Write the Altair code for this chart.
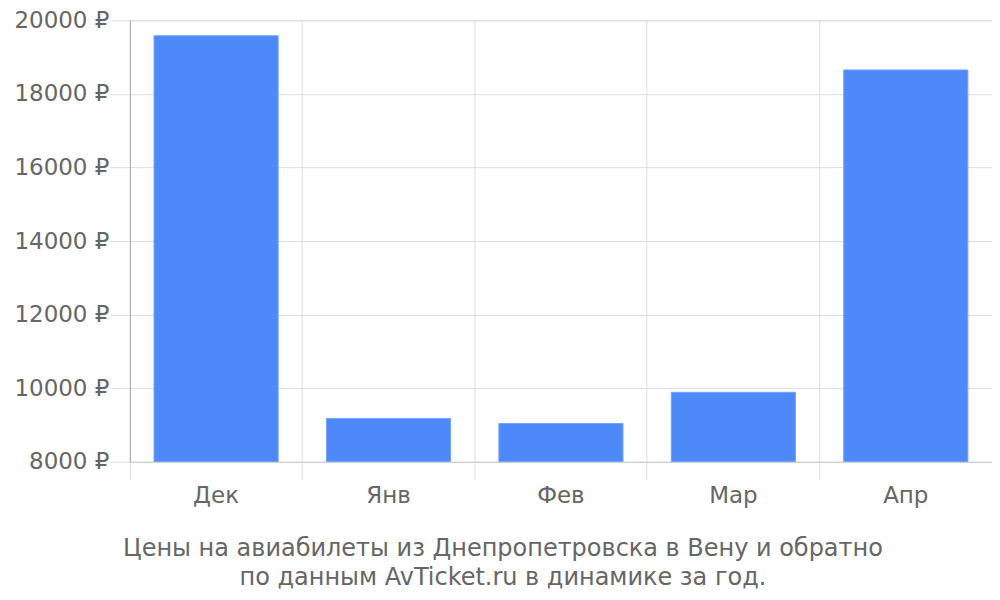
import altair as alt
import pandas as pd

months = ["Дек", "Янв", "Фев", "Мар", "Апр"]
prices = [19580, 9180, 9040, 9890, 18650]
title_lines = ["Цены на авиабилеты из Днепропетровска в Вену и обратно",
               "по данным AvTicket.ru в динамике за год."]

df = pd.DataFrame({"month": months, "price": prices})

FONT = "DejaVu Sans"
GRAY = "#666666"

chart = alt.Chart(df).mark_bar(
    color="#4d89f9", stroke="#74a3fa", strokeWidth=1, clip=True,
    width=alt.RelativeBandSize(0.72)
).encode(
    x=alt.X("month:N", sort=months, title=None,
            scale=alt.Scale(paddingInner=0, paddingOuter=0),
            axis=alt.Axis(bandPosition=0, grid=True, gridColor="#dddddd",
                          tickColor="#dddddd", tickSize=18, domainColor="#cccccc",
                          labelAngle=0, labelPadding=5, labelFontSize=23,
                          labelColor=GRAY, labelFont=FONT)),
    y=alt.Y("price:Q", title=None,
            scale=alt.Scale(domain=[8000, 20000], zero=False, nice=False),
            axis=alt.Axis(values=[8000, 10000, 12000, 14000, 16000, 18000, 20000],
                          labelExpr="format(datum.value, 'd') + ' ₽'",
                          grid=True, gridColor="#dddddd", tickColor="#dddddd",
                          tickSize=20, domainColor="#aaaaaa", labelPadding=1,
                          labelFontSize=23, labelColor=GRAY, labelFont=FONT)),
).properties(
    width=863, height=442,
    padding={"left": 122, "top": 12, "right": 0, "bottom": 130},
    autosize=alt.AutoSizeParams(type="none"),
    title=alt.TitleParams(text=title_lines, orient="bottom", anchor="middle",
                          frame="bounds",
                          font=FONT, fontSize=24, fontWeight="normal",
                          color=GRAY, offset=29, lineHeight=29),
).configure_view(stroke="#dddddd")

chart.save("out.html", embed_options={"renderer": "svg", "actions": False})
